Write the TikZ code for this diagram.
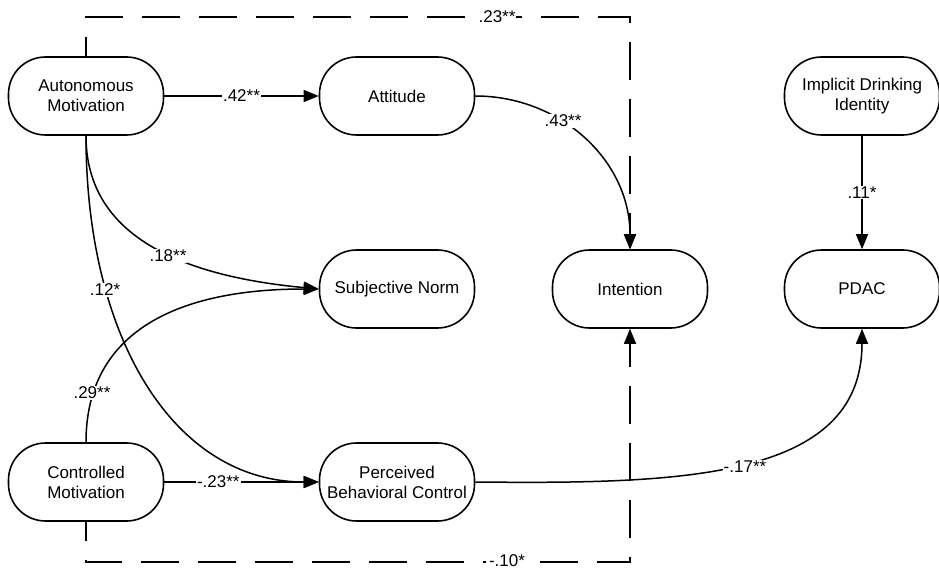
\documentclass[tikz,border=0pt]{standalone}
\usepackage{fontspec}
\setmainfont{Liberation Sans}
\usetikzlibrary{arrows.meta}
\begin{document}
\begin{tikzpicture}[x=1pt,y=-1pt,
  box/.style={draw,line width=1.6pt,rounded corners=37pt,minimum width=155pt,minimum height=78pt,align=center,font=\fontsize{17}{20}\selectfont,inner sep=2pt},
  conn/.style={line width=1.5pt,-{Triangle[length=15pt,width=12pt]}},
  dconn/.style={line width=1.5pt,dash pattern=on 38pt off 19pt,dash phase=19pt,-{Triangle[length=15pt,width=12pt]}},
  lab/.style={fill=white,inner sep=1pt,font=\fontsize{17}{20}\selectfont}]
\useasboundingbox (0,0) rectangle (939,572);
\node[box] (am) at (86,96) {Autonomous\\Motivation};
\node[box] (att) at (397,96) {Attitude};
\node[box] (idi) at (862,96) {Implicit Drinking\\Identity};
\node[box] (sn) at (397,289) {Subjective Norm};
\node[box] (int) at (630,289) {Intention};
\node[box] (pdac) at (862,289) {PDAC};
\node[box] (cm) at (86,482) {Controlled\\Motivation};
\node[box] (pbc) at (397,482) {Perceived\\Behavioral Control};
\coordinate (t1) at (86,17);
\coordinate (t2) at (630,17);
\coordinate (b1) at (86,562);
\coordinate (b2) at (630,562);
\draw[dconn] (am.north) -- (t1) -- (t2) -- (int.north);
\draw[dconn] (cm.south) -- (b1) -- (b2) -- (int.south);
\node[lab] (l23) at (497,17) {.23**};
\node[lab,inner xsep=3pt] (l10) at (507,561) {-.10*};
\draw[conn] (am) -- node[lab] (l42) {.42**} (att);
\draw[conn] (att.east) .. controls (560,96) and (630,160) .. (int.north);
\node[lab] (l43) at (563,121) {.43**};
\draw[conn] (am.south) .. controls (86,230) and (170,275) .. (sn.west);
\node[lab] (l18) at (168,256) {.18**};
\draw[conn] (am.south) .. controls (86,340) and (175,482) .. (pbc.west);
\node[lab] (l12) at (105,290) {.12*};
\draw[conn] (cm.north) .. controls (86,330) and (180,289) .. (sn.west);
\node[lab] (l29) at (92,393) {.29**};
\draw[conn] (cm) -- node[lab,pos=0.35] (l23b) {-.23**} (pbc);
\draw[conn] (pbc.east) .. controls (680,484) and (862,480) .. (pdac.south);
\node[lab] (l17) at (745,467) {-.17**};
\draw[conn] (idi) -- node[lab] (l11) {.11*} (pdac);
\end{tikzpicture}
\end{document}
